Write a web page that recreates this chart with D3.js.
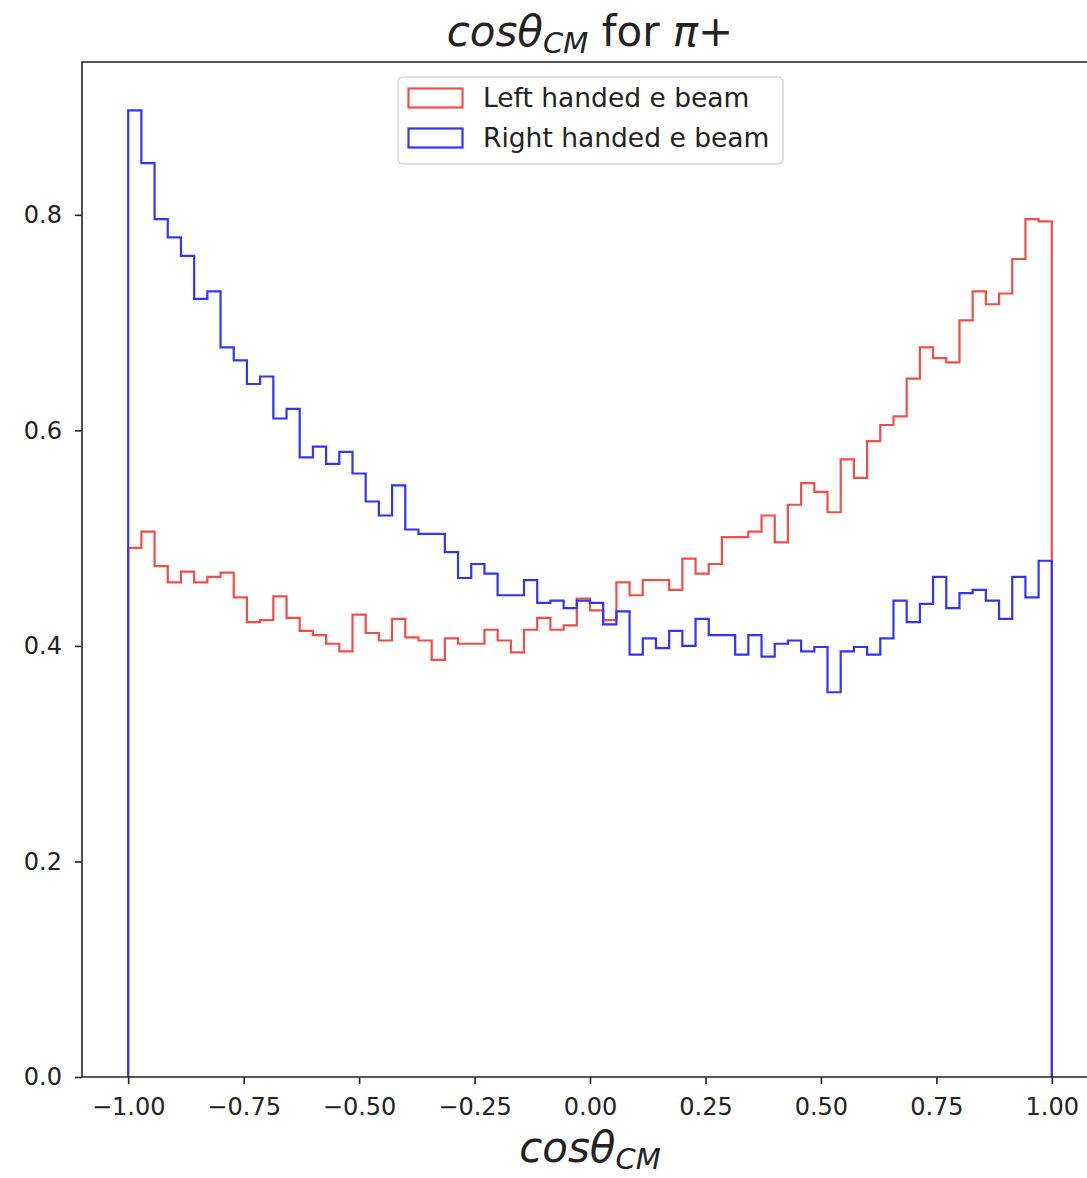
<!DOCTYPE html>
<html>
<head>
<meta charset="utf-8">
<script src="https://cdn.jsdelivr.net/npm/d3@7"></script>
<style>
  body { margin: 0; background: #fff; }
  svg { display: block; font-family: "DejaVu Sans", sans-serif; }
</style>
</head>
<body>
<div id="chart"></div>
<script>
// 70 bins between -1 and 1, density per bin
const binLo = -1, binHi = 1, nBins = 70;

const leftHanded = [
  0.491, 0.506, 0.474, 0.459, 0.469, 0.459, 0.464, 0.468, 0.445, 0.422,
  0.424, 0.446, 0.426, 0.414, 0.410, 0.402, 0.395, 0.429, 0.412, 0.405,
  0.425, 0.408, 0.405, 0.387, 0.407, 0.402, 0.402, 0.415, 0.405, 0.394,
  0.415, 0.426, 0.415, 0.419, 0.444, 0.433, 0.424, 0.459, 0.447, 0.461,
  0.461, 0.452, 0.481, 0.467, 0.476, 0.501, 0.501, 0.506, 0.521, 0.496,
  0.531, 0.551, 0.543, 0.524, 0.573, 0.556, 0.590, 0.605, 0.613, 0.648,
  0.677, 0.667, 0.663, 0.702, 0.729, 0.717, 0.727, 0.759, 0.796, 0.794
];

const rightHanded = [
  0.897, 0.848, 0.796, 0.779, 0.762, 0.722, 0.729, 0.677, 0.665, 0.643,
  0.650, 0.611, 0.620, 0.575, 0.585, 0.569, 0.580, 0.560, 0.534, 0.521,
  0.549, 0.508, 0.504, 0.504, 0.487, 0.463, 0.476, 0.467, 0.447, 0.447,
  0.461, 0.440, 0.442, 0.435, 0.442, 0.440, 0.420, 0.432, 0.392, 0.407,
  0.398, 0.414, 0.400, 0.425, 0.410, 0.410, 0.392, 0.410, 0.390, 0.402,
  0.405, 0.395, 0.399, 0.357, 0.395, 0.399, 0.392, 0.407, 0.442, 0.422,
  0.439, 0.464, 0.435, 0.449, 0.452, 0.442, 0.425, 0.464, 0.445, 0.479
];

const xTicks = [-1.00, -0.75, -0.50, -0.25, 0.00, 0.25, 0.50, 0.75, 1.00];
const yTicks = [0.0, 0.2, 0.4, 0.6, 0.8];
const seriesNames = ["Left handed e beam", "Right handed e beam"];

const width = 1087, height = 1178;
const margin = { top: 62, left: 82, bottom: 101 };

const svg = d3.select("#chart")
  .append("svg")
  .attr("width", width)
  .attr("height", height);

const x = d3.scaleLinear().domain([-1.1, 1.1]).range([margin.left, 1098]);
const y = d3.scaleLinear().domain([0, 0.9418]).range([height - margin.bottom, margin.top]);

const binW = (binHi - binLo) / nBins;

function stepPoints(vals) {
  const pts = [[binLo, 0]];
  vals.forEach((v, i) => pts.push([binLo + i * binW, v]));
  pts.push([binHi, 0]);
  return pts;
}

const line = d3.line()
  .x(d => x(d[0]))
  .y(d => y(d[1]))
  .curve(d3.curveStepAfter);

const red = "rgb(243,77,72)", blue = "rgb(48,52,255)";

svg.append("path")
  .attr("d", line(stepPoints(leftHanded)))
  .attr("fill", "none")
  .attr("stroke", red)
  .attr("stroke-width", 2.2);

svg.append("path")
  .attr("d", line(stepPoints(rightHanded)))
  .attr("fill", "none")
  .attr("stroke", blue)
  .attr("stroke-width", 2.2);

// axes
const fmtX = d => d3.format(".2f")(d).replace("-", "\u2212");
const xAxis = svg.append("g")
  .attr("transform", `translate(0,${height - margin.bottom})`)
  .call(d3.axisBottom(x).tickValues(xTicks).tickFormat(fmtX).tickSize(7).tickPadding(14));
const yAxis = svg.append("g")
  .attr("transform", `translate(${margin.left},0)`)
  .call(d3.axisLeft(y).tickValues(yTicks).tickFormat(d3.format(".1f")).tickSize(7).tickPadding(13));

[xAxis, yAxis].forEach(g => {
  g.select(".domain").remove();
  g.selectAll(".tick line").attr("stroke", "#222").attr("stroke-width", 1.6);
  g.selectAll(".tick text")
    .attr("fill", "#222")
    .style("font-size", "24px")
    .style("font-family", "DejaVu Sans");
});

// spines
svg.append("path")
  .attr("d", `M${margin.left},${height - margin.bottom}V${margin.top}H${width + 5}`)
  .attr("fill", "none").attr("stroke", "#222").attr("stroke-width", 1.6);
svg.append("line")
  .attr("x1", margin.left).attr("x2", width + 5)
  .attr("y1", height - margin.bottom).attr("y2", height - margin.bottom)
  .attr("stroke", "#222").attr("stroke-width", 1.6);

// title and x label with math-style text
function mathLabel(sel, cx, cy, withSuffix) {
  const t = sel.append("text")
    .attr("x", cx).attr("y", cy)
    .attr("text-anchor", "middle")
    .attr("fill", "#222")
    .style("font-size", "42px");
  t.append("tspan").style("font-style", "italic").text("cosθ");
  t.append("tspan").style("font-style", "italic").style("font-size", "29px").attr("dy", 7).text("CM");
  if (withSuffix) {
    t.append("tspan").attr("dy", -7).text(" for ");
    t.append("tspan").style("font-style", "italic").text("π");
    t.append("tspan").text("+");
  }
  return t;
}
mathLabel(svg, 590, 46, true);
mathLabel(svg, 590, 1162, false);

// legend
const lg = svg.append("g").attr("transform", "translate(398,77)");
lg.append("rect")
  .attr("width", 385).attr("height", 87)
  .attr("rx", 5)
  .attr("fill", "#fff").attr("fill-opacity", 0.8)
  .attr("stroke", "#d6d6d6").attr("stroke-width", 1.5);
[red, blue].forEach((c, i) => {
  lg.append("rect")
    .attr("x", 10.5).attr("y", 11.5 + i * 40)
    .attr("width", 54).attr("height", 19)
    .attr("fill", "none").attr("stroke", c).attr("stroke-width", 2.2);
  lg.append("text")
    .attr("x", 85).attr("y", 30 + i * 40)
    .attr("fill", "#222")
    .style("font-size", "26.5px")
    .text(seriesNames[i]);
});
</script>
</body>
</html>
